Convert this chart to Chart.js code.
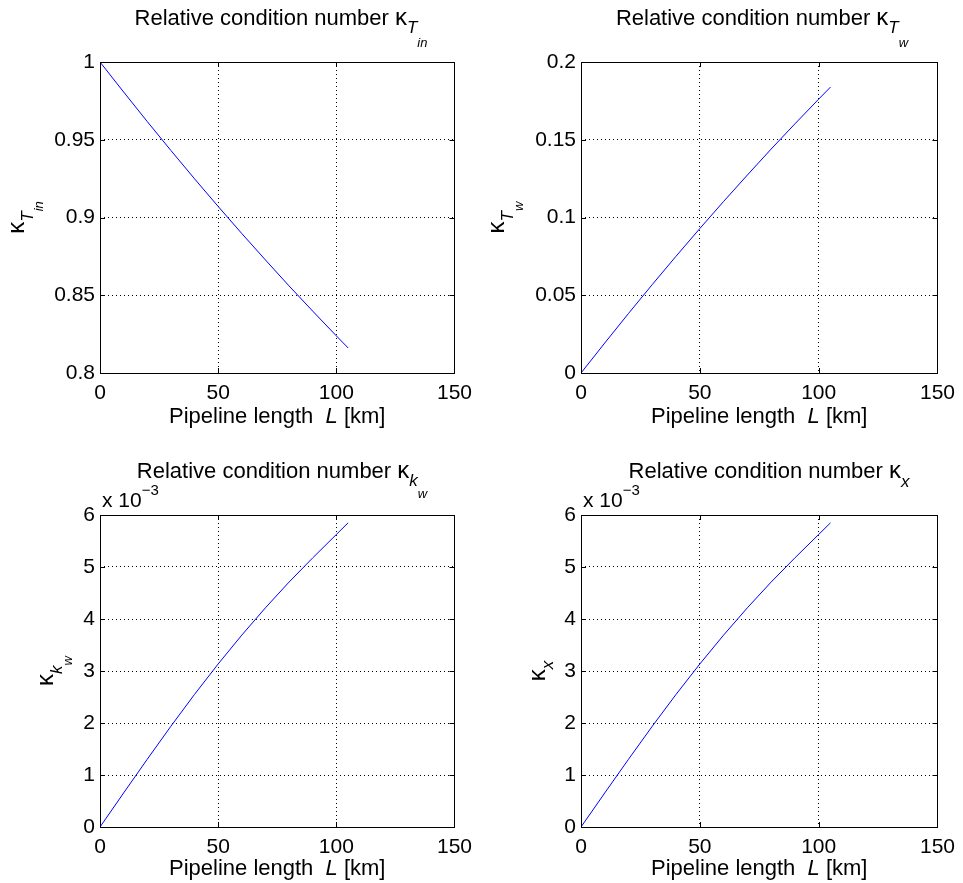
<!DOCTYPE html>
<html>
<head>
<meta charset="utf-8">
<script src="https://cdn.jsdelivr.net/npm/chart.js@4.4.1/dist/chart.umd.min.js"></script>
<style>
  body { margin: 0; background: #fff; }
  .cell { position: absolute; }
</style>
</head>
<body>
<div class="cell" style="left:0;top:0;width:480px;height:440px"><canvas id="c1"></canvas></div>
<div class="cell" style="left:480px;top:0;width:483px;height:440px"><canvas id="c2"></canvas></div>
<div class="cell" style="left:0;top:440px;width:480px;height:443px"><canvas id="c3"></canvas></div>
<div class="cell" style="left:480px;top:440px;width:483px;height:443px"><canvas id="c4"></canvas></div>
<script>
// pipeline length [km]
const lengthKm = [0, 10, 20, 30, 40, 50, 60, 70, 80, 90, 100, 105];
// relative condition numbers
const kappaTin = [1, 0.9807, 0.9617, 0.9431, 0.9249, 0.9071, 0.8897, 0.8727, 0.8560, 0.8398, 0.8239, 0.8161];
const kappaTw = [0, 0.0193, 0.0383, 0.0569, 0.0751, 0.0929, 0.1103, 0.1273, 0.1440, 0.1602, 0.1761, 0.1839];
const kappaKw = [0, 0.000655, 0.001303, 0.001938, 0.002550, 0.003135, 0.003690, 0.004215, 0.004710, 0.005175, 0.005625, 0.005850];
const kappaX = [0, 0.000655, 0.001303, 0.001938, 0.002550, 0.003135, 0.003690, 0.004215, 0.004710, 0.005175, 0.005625, 0.005850];

const xTicks = [0, 50, 100, 150];
const xLabel = 'Pipeline length  ';

const FONT = "'Liberation Sans', Arial, Helvetica, sans-serif";

function seg(t, size, dy, italic) {
  return { t: t, size: size, dy: dy || 0, italic: !!italic };
}

function drawRich(ctx, segs, x, y, angle, align) {
  ctx.save();
  ctx.translate(x, y);
  ctx.rotate(angle || 0);
  ctx.fillStyle = '#000';
  ctx.textBaseline = 'alphabetic';
  ctx.textAlign = 'left';
  let total = 0;
  segs.forEach(s => {
    ctx.font = (s.italic ? 'italic ' : '') + s.size + 'px ' + FONT;
    s.w = ctx.measureText(s.t).width;
    total += s.w;
  });
  let pos = align === 'left' ? 0 : -total / 2;
  segs.forEach(s => {
    ctx.font = (s.italic ? 'italic ' : '') + s.size + 'px ' + FONT;
    ctx.fillText(s.t, pos, s.dy);
    pos += s.w;
  });
  ctx.restore();
}

const panels = [
  {
    id: 'c1', w: 480, h: 440, box: { l: 100, t: 62, r: 460, b: 373 },
    yMin: 0.8, yMax: 1, yStep: 0.05, values: kappaTin, scale: 1,
    titleX: 281, titleY: 25, ylabX: 24,
    title: [seg('Relative condition number ', 22), seg('κ', 24), seg('T', 17, 8, true), seg('in', 13, 22, true)],
    ylab: [seg('κ', 24), seg('T', 17, 9, true), seg('in', 13, 19, true)],
    xlabY: 423, exp: false
  },
  {
    id: 'c2', w: 483, h: 440, box: { l: 101, t: 62, r: 461, b: 373 },
    yMin: 0, yMax: 0.2, yStep: 0.05, values: kappaTw, scale: 1,
    titleX: 282, titleY: 25, ylabX: 24,
    title: [seg('Relative condition number ', 22), seg('κ', 24), seg('T', 17, 8, true), seg('w', 13, 22, true)],
    ylab: [seg('κ', 24), seg('T', 17, 9, true), seg('w', 13, 19, true)],
    xlabY: 423, exp: false
  },
  {
    id: 'c3', w: 480, h: 443, box: { l: 100, t: 75, r: 460, b: 387 },
    yMin: 0, yMax: 0.006, yStep: 0.001, values: kappaKw, scale: 1000,
    titleX: 282, titleY: 38, ylabX: 53,
    title: [seg('Relative condition number ', 22), seg('κ', 24), seg('k', 17, 8, true), seg('w', 13, 20, true)],
    ylab: [seg('κ', 24), seg('k', 17, 9, true), seg('w', 13, 19, true)],
    xlabY: 435, exp: true
  },
  {
    id: 'c4', w: 483, h: 443, box: { l: 101, t: 75, r: 461, b: 387 },
    yMin: 0, yMax: 0.006, yStep: 0.001, values: kappaX, scale: 1000,
    titleX: 289, titleY: 38, ylabX: 65,
    title: [seg('Relative condition number ', 22), seg('κ', 24), seg('x', 17, 9, true)],
    ylab: [seg('κ', 24), seg('x', 17, 8, true)],
    xlabY: 435, exp: true
  }
];

const matlabFrame = {
  id: 'matlabFrame',
  afterDraw(chart) {
    const p = chart.options.plugins.matlabFrame.panel;
    const ctx = chart.ctx;
    const a = chart.chartArea;
    const xs = chart.scales.x, ys = chart.scales.y;
    ctx.save();
    ctx.strokeStyle = '#000';
    ctx.lineWidth = 1;
    ctx.beginPath();
    xs.ticks.forEach(t => {
      const px = Math.round(xs.getPixelForValue(t.value)) + 0.5;
      ctx.moveTo(px, a.bottom); ctx.lineTo(px, a.bottom - 5);
      ctx.moveTo(px, a.top); ctx.lineTo(px, a.top + 5);
    });
    ys.ticks.forEach(t => {
      const py = Math.round(ys.getPixelForValue(t.value)) + 0.5;
      ctx.moveTo(a.left, py); ctx.lineTo(a.left + 5, py);
      ctx.moveTo(a.right, py); ctx.lineTo(a.right - 5, py);
    });
    ctx.stroke();
    ctx.strokeRect(Math.round(a.left) + 0.5, Math.round(a.top) + 0.5,
      Math.round(a.right - a.left), Math.round(a.bottom - a.top));
    ctx.restore();

    drawRich(ctx, p.title, p.titleX, p.titleY, 0);
    drawRich(ctx, p.ylab, p.ylabX, (a.top + a.bottom) / 2, -Math.PI / 2);
    drawRich(ctx, [seg(xLabel, 22), seg('L', 22, 0, true), seg(' [km]', 22)],
      (a.left + a.right) / 2, p.xlabY, 0);
    if (p.exp) {
      drawRich(ctx, [seg('x 10', 21), seg('−3', 15, -12)], a.left + 2, a.top - 8, 0, 'left');
    }
  }
};

panels.forEach(p => {
  const points = lengthKm.map((x, i) => ({ x: x, y: p.values[i] }));
  new Chart(document.getElementById(p.id), {
    type: 'line',
    data: {
      datasets: [{
        data: points,
        borderColor: '#0000ff',
        borderWidth: 1,
        pointRadius: 0,
        tension: 0,
        fill: false
      }]
    },
    options: {
      responsive: true,
      maintainAspectRatio: false,
      animation: false,
      events: [],
      layout: { padding: { left: 0, top: p.box.t, right: p.w - p.box.r, bottom: 0 } },
      plugins: {
        legend: { display: false },
        tooltip: { enabled: false },
        matlabFrame: { panel: p }
      },
      scales: {
        x: {
          type: 'linear',
          min: 0, max: 150,
          afterBuildTicks: s => { s.ticks = xTicks.map(v => ({ value: v })); },
          afterFit: s => { s.height = p.h - p.box.b; },
          ticks: {
            color: '#000', padding: 8, maxRotation: 0,
            font: { family: FONT, size: 21 },
            callback: v => String(v)
          },
          grid: { color: '#000', lineWidth: 1, drawTicks: false },
          border: { display: false, dash: [1, 3] }
        },
        y: {
          type: 'linear',
          min: p.yMin, max: p.yMax,
          ticks: {
            color: '#000', padding: 5, stepSize: p.yStep,
            font: { family: FONT, size: 21 },
            callback: v => String(+(v * p.scale).toFixed(4))
          },
          afterFit: s => { s.width = p.box.l; },
          grid: { color: '#000', lineWidth: 1, drawTicks: false },
          border: { display: false, dash: [1, 3] }
        }
      }
    },
    plugins: [matlabFrame]
  });
});
</script>
</body>
</html>
